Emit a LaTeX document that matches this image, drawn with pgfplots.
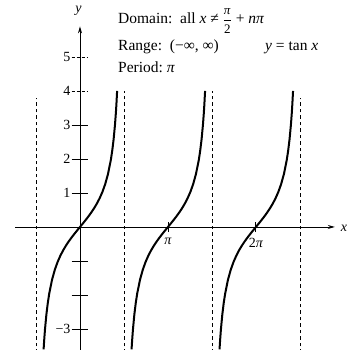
\documentclass[border=0pt]{standalone}
\usepackage{pgfplots}
\pgfplotsset{compat=1.18}
\usepackage{pgfplotstable}
\usepackage{fontspec}
\setmainfont{Liberation Serif}
\usetikzlibrary{arrows.meta}
\tikzset{
  lbl/.style={font=\fontsize{14}{16}\selectfont},
  info/.style={font=\fontsize{15.5}{17}\selectfont, anchor=base west, inner sep=0pt},
}
\newcommand{\halfpi}{\ensuremath{\displaystyle\frac{\mbox{\fontsize{13}{13}\selectfont\textit{π}}}{\mbox{\fontsize{13}{13}\selectfont 2}}}}
\begin{document}
\begin{tikzpicture}
% one branch of y = tan x per column: x0 around 0, x1 around pi, x2 around 2pi
\pgfplotstableread{
x0      x1      x2      y
-1.2998 1.8418  4.9834  -3.6
-1.28   1.8616  5.0032  -3.341
-1.25   1.8916  5.0332  -3.0096
-1.2    1.9416  5.0832  -2.5722
-1.15   1.9916  5.1332  -2.2345
-1.1    2.0416  5.1832  -1.9648
-1.0    2.1416  5.2832  -1.5574
-0.9    2.2416  5.3832  -1.2602
-0.8    2.3416  5.4832  -1.0296
-0.7    2.4416  5.5832  -0.8423
-0.6    2.5416  5.6832  -0.6841
-0.5    2.6416  5.7832  -0.5463
-0.4    2.7416  5.8832  -0.4228
-0.3    2.8416  5.9832  -0.3093
-0.2    2.9416  6.0832  -0.2027
-0.1    3.0416  6.1832  -0.1003
0       3.1416  6.2832  0
0.1     3.2416  6.3832  0.1003
0.2     3.3416  6.4832  0.2027
0.3     3.4416  6.5832  0.3093
0.4     3.5416  6.6832  0.4228
0.5     3.6416  6.7832  0.5463
0.6     3.7416  6.8832  0.6841
0.7     3.8416  6.9832  0.8423
0.8     3.9416  7.0832  1.0296
0.9     4.0416  7.1832  1.2602
1.0     4.1416  7.2832  1.5574
1.1     4.2416  7.3832  1.9648
1.15    4.2916  7.4332  2.2345
1.2     4.3416  7.4832  2.5722
1.25    4.3916  7.5332  3.0096
1.28    4.4216  7.5632  3.341
1.3     4.4416  7.5832  3.6021
1.3258  4.4674  7.609   4.0
}\tanbranch
\begin{axis}[
  scale only axis, width=354pt, height=350pt,
  xmin=-2.857, xmax=9.786, ymin=-3.618, ymax=6.676,
  axis lines=none, clip=true,
]
\path (rel axis cs:0,0) rectangle (rel axis cs:1,1);
% vertical asymptotes
\addplot[black, line width=0.6pt, dash pattern=on 3.5pt off 3pt] coordinates {(-1.5708,-3.7) (-1.5708,3.8)};
\addplot[black, line width=0.6pt, dash pattern=on 3.5pt off 3pt] coordinates {(1.5708,-3.7) (1.5708,4.0)};
\addplot[black, line width=0.6pt, dash pattern=on 3.5pt off 3pt] coordinates {(4.7124,-3.7) (4.7124,4.0)};
\addplot[black, line width=0.6pt, dash pattern=on 3.5pt off 3pt] coordinates {(7.854,-3.7) (7.854,3.8)};
% axes
\draw[line width=0.8pt, -{Stealth[length=7pt,width=4pt]}] (axis cs:-2.32,0) -- (axis cs:9.1,0);
\draw[line width=0.8pt, -{Stealth[length=7pt,width=4pt]}] (axis cs:0,-3.7) -- (axis cs:0,5.9);
% y ticks
\pgfplotsinvokeforeach{-3,-2,-1,1,2,3}{
  \draw[line width=0.9pt] (axis cs:-0.3,#1) -- (axis cs:0.3,#1);
}
\pgfplotsinvokeforeach{4,5}{
  \draw[line width=0.9pt, dash pattern=on 3pt off 2pt] (axis cs:-0.3,#1) -- (axis cs:0.3,#1);
}
% x ticks
\draw[line width=0.9pt] (axis cs:3.1416,-0.15) -- (axis cs:3.1416,0.15);
\draw[line width=0.9pt] (axis cs:6.2832,-0.15) -- (axis cs:6.2832,0.15);
% the three branches
\addplot[black, line width=2pt] table[x=x0, y=y] {\tanbranch};
\addplot[black, line width=2pt] table[x=x1, y=y] {\tanbranch};
\addplot[black, line width=2pt] table[x=x2, y=y] {\tanbranch};
% labels
\pgfplotsinvokeforeach{1,2,3,4,5}{
  \node[lbl, anchor=east, inner sep=1pt] at (axis cs:-0.3,#1) {#1};
}
\node[lbl, anchor=east, inner sep=1pt] at (axis cs:-0.3,-3) {−3};
\node[lbl, anchor=north, inner sep=1pt] at (axis cs:3.1416,-0.3) {\textit{π}};
\node[lbl, anchor=north, inner sep=1pt] at (axis cs:6.2832,-0.3) {2\textit{π}};
\node[lbl] at (axis cs:9.43,-0.03) {\textit{x}};
\node[lbl] at (axis cs:-0.05,6.35) {\textit{y}};
\node[info] at (axis cs:1.357,5.97)
  {Domain:\ \ all \textit{x} ≠ \halfpi\ + \textit{nπ}};
\node[info] at (axis cs:1.357,5.176) {Range:\ \ (−∞, ∞)};
\node[info] at (axis cs:1.357,4.53) {Period:\ \textit{π}};
\node[info] at (axis cs:6.607,5.176) {\textit{y} = tan \textit{x}};
\end{axis}
\end{tikzpicture}
\end{document}
